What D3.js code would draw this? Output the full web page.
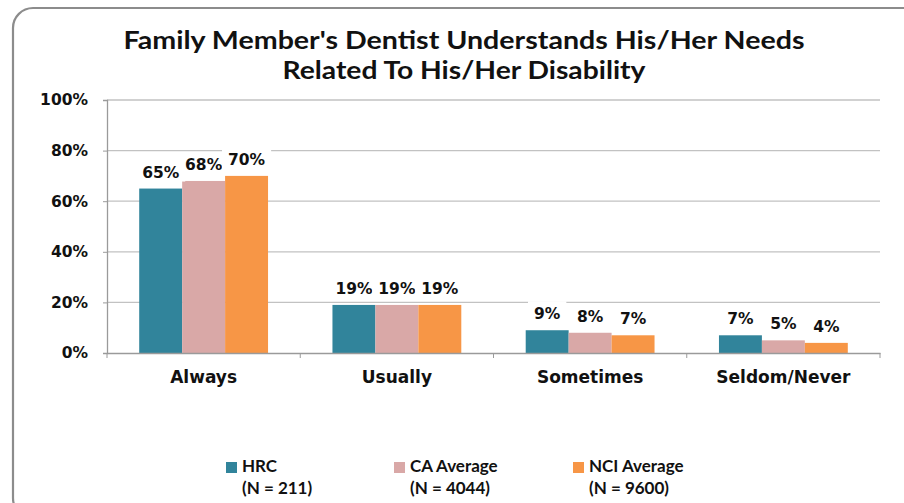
<!DOCTYPE html>
<html>
<head>
<meta charset="utf-8">
<script src="https://cdn.jsdelivr.net/npm/d3@7"></script>
<style>
  html, body { margin: 0; padding: 0; background: #fff; }
  svg { display: block; }
</style>
</head>
<body>
<svg id="chart" width="904" height="503"></svg>
<script>
// Response categories and survey groups
const categories = ["Always", "Usually", "Sometimes", "Seldom/Never"];
const seriesNames = ["HRC", "CA Average", "NCI Average"];
const seriesN = ["(N = 211)", "(N = 4044)", "(N = 9600)"];
const hrcValues = [65, 19, 9, 7];
const caValues = [68, 19, 8, 5];
const nciValues = [70, 19, 7, 4];
const yTicks = [0, 20, 40, 60, 80, 100];
const colors = ["#31849B", "#D9A8A7", "#F79646"];
const titleLines = ["Family Member's Dentist Understands His/Her Needs", "Related To His/Her Disability"];

const series = [hrcValues, caValues, nciValues];
const svg = d3.select("#chart");

// Outer frame with rounded corners
svg.append("rect")
  .attr("x", 13).attr("y", 8)
  .attr("width", 920).attr("height", 510)
  .attr("rx", 20).attr("ry", 20)
  .attr("fill", "#fff")
  .attr("stroke", "#8c8c8c")
  .attr("stroke-width", 2.2);

// Title, condensed to the chart's title width
const titleFont = "Lato, 'Open Sans', sans-serif";
const titleWidths = [681, 363];
svg.append("g").selectAll("text")
  .data(titleLines)
  .join("text")
  .attr("x", 464)
  .attr("y", (d, i) => 49 + i * 30)
  .attr("text-anchor", "middle")
  .attr("font-family", titleFont)
  .attr("font-weight", "bold")
  .attr("font-size", 25)
  .attr("fill", "#111")
  .attr("textLength", (d, i) => titleWidths[i])
  .attr("lengthAdjust", "spacingAndGlyphs")
  .text(d => d);

const plot = { left: 107, right: 880, top: 100, bottom: 353 };

const x0 = d3.scaleBand()
  .domain(categories)
  .range([plot.left, plot.right])
  .paddingInner(0).paddingOuter(0);

const x1 = d3.scaleBand()
  .domain(d3.range(seriesNames.length))
  .range([x0.bandwidth() / 6, x0.bandwidth() * 5 / 6]);

const y = d3.scaleLinear().domain([0, 100]).range([plot.bottom, plot.top]);

// Gridlines
svg.append("g").selectAll("line")
  .data(yTicks.filter(t => t > 0))
  .join("line")
  .attr("x1", plot.left).attr("x2", plot.right)
  .attr("y1", d => y(d)).attr("y2", d => y(d))
  .attr("stroke", "#c2c2c2")
  .attr("stroke-width", 1.3);

// Y axis
const axisFont = "'DejaVu Sans', Verdana, sans-serif";
const yAxis = d3.axisLeft(y)
  .tickValues(yTicks)
  .tickFormat(d => d + "%")
  .tickSize(4)
  .tickPadding(15);
const gy = svg.append("g")
  .attr("transform", `translate(${plot.left},0)`)
  .call(yAxis);
gy.select(".domain").attr("stroke", "#9a9a9a").attr("stroke-width", 1.3);
gy.selectAll(".tick line").attr("stroke", "#9a9a9a");
gy.selectAll(".tick text")
  .attr("font-family", axisFont)
  .attr("font-weight", "bold")
  .attr("font-size", 15.5)
  .attr("fill", "#111");

// Bars
const groups = svg.append("g").selectAll("g")
  .data(categories)
  .join("g")
  .attr("transform", d => `translate(${x0(d)},0)`);

groups.selectAll("rect")
  .data((c, ci) => series.map((vals, si) => ({ si, v: vals[ci] })))
  .join("rect")
  .attr("x", d => x1(d.si))
  .attr("width", x1.bandwidth())
  .attr("y", d => y(d.v))
  .attr("height", d => y(0) - y(d.v))
  .attr("fill", d => colors[d.si]);

// X axis
const xAxis = d3.axisBottom(x0).tickSize(0).tickPadding(18);
const gx = svg.append("g")
  .attr("transform", `translate(0,${plot.bottom})`)
  .call(xAxis);
gx.select(".domain").attr("stroke", "#9a9a9a").attr("stroke-width", 1.3);
gx.selectAll(".tick text")
  .attr("font-family", axisFont)
  .attr("font-weight", "bold")
  .attr("font-size", 17)
  .attr("fill", "#111");
// Category separator ticks
gx.append("g").selectAll("line")
  .data(categories.map(c => x0(c)).concat([plot.right]))
  .join("line")
  .attr("x1", d => d).attr("x2", d => d)
  .attr("y1", 0).attr("y2", 5)
  .attr("stroke", "#9a9a9a");

// Value labels with white backgrounds
const labels = groups.selectAll("g.lbl")
  .data((c, ci) => series.map((vals, si) => ({ si, v: vals[ci] })))
  .join("g")
  .attr("class", "lbl")
  .attr("transform", d => `translate(${x1(d.si) + x1.bandwidth() / 2},${y(d.v) - 11})`);
labels.each(function (d) {
  const g = d3.select(this);
  const bg = g.append("rect").attr("fill", "#fff");
  const t = g.append("text")
    .attr("text-anchor", "middle")
    .attr("font-family", axisFont)
    .attr("font-weight", "bold")
    .attr("font-size", 15.5)
    .attr("fill", "#111")
    .text(d.v + "%");
  const w = t.node().getComputedTextLength();
  bg.attr("x", -w / 2 - 6).attr("width", w + 12)
    .attr("y", -18).attr("height", 22);
});

// Legend
const legendX = [226, 394, 573];
const legend = svg.append("g").selectAll("g")
  .data(seriesNames)
  .join("g")
  .attr("transform", (d, i) => `translate(${legendX[i]},0)`);
legend.append("rect")
  .attr("x", 0).attr("y", 462)
  .attr("width", 11).attr("height", 11)
  .attr("fill", (d, i) => colors[i]);
legend.append("text")
  .attr("x", 16).attr("y", 472)
  .attr("font-family", titleFont)
  .attr("font-weight", "bold")
  .attr("font-size", 17)
  .attr("fill", "#111")
  .text(d => d);
legend.append("text")
  .attr("x", 16).attr("y", 494)
  .attr("font-family", titleFont)
  .attr("font-weight", "bold")
  .attr("font-size", 17)
  .attr("fill", "#111")
  .text((d, i) => seriesN[i]);
</script>
</body>
</html>
